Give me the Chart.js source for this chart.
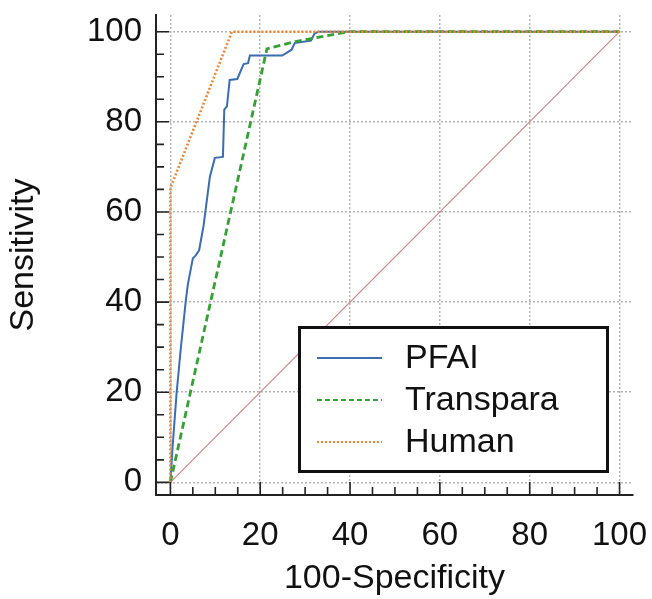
<!DOCTYPE html>
<html lang="en">
<head>
    <meta charset="UTF-8">
    <title>ROC curves</title>
    <script src="https://cdn.jsdelivr.net/npm/chart.js@4.4.0/dist/chart.umd.min.js"></script>
    <style>
        body { margin: 0; background: #fff; }
        canvas { display: block; }
    </style>
</head>
<body>
    <canvas id="rocChart" width="652" height="599"></canvas>
    <script>
    // data (100-Specificity vs Sensitivity)
    var pfaiX = [0, 0.5, 1.4, 2.3, 3.4, 3.9, 5.0, 5.6, 6.4, 7.4, 8.3, 8.8, 9.9, 11.7, 12.0, 12.6, 13.2, 14.9, 16.3, 17.3, 17.7, 24.9, 27.0, 27.7, 31.3, 32.1, 33.0, 100];
    var pfaiY = [0, 8, 20, 29.5, 40, 44, 49.7, 50.3, 51.5, 57, 64, 67.8, 72, 72.2, 82.7, 83.5, 89.3, 89.5, 92.8, 93, 94.7, 94.7, 96, 97.5, 98, 99.6, 100, 100];
    var transparaX = [0, 21.5, 27.8, 39.6, 100];
    var transparaY = [0, 96.2, 97.8, 100, 100];
    var humanX = [0, 0, 13.7, 100];
    var humanY = [0, 65.3, 100, 100];
    var chanceX = [0, 100];
    var chanceY = [0, 100];
    var tickValues = [0, 5, 10, 15, 20, 25, 30, 35, 40, 45, 50, 55, 60, 65, 70, 75, 80, 85, 90, 95, 100];

    function points(xs, ys) {
        return xs.map(function(x, i) { return { x: x, y: ys[i] }; });
    }

    var FONT = '"Liberation Sans", Arial, sans-serif';

    function gridColor(ctx) {
        return ctx.tick && ctx.tick.value % 20 === 0 ? '#b4b4b4' : 'rgba(0,0,0,0)';
    }
    function tickLabel(v) {
        return v % 20 === 0 ? v : '';
    }
    function buildTicks(scale) {
        scale.ticks = tickValues.map(function(v) { return { value: v }; });
    }

    // tick marks pointing into the plot
    var innerTicks = {
        id: 'innerTicks',
        afterDraw: function(chart) {
            var c = chart.ctx, area = chart.chartArea;
            var xs = chart.scales.x, ys = chart.scales.y;
            c.save();
            c.strokeStyle = '#222';
            c.lineWidth = 1.6;
            c.beginPath();
            tickValues.forEach(function(v) {
                var len = v % 20 === 0 ? 13 : 8;
                var px = xs.getPixelForValue(v);
                c.moveTo(px, area.bottom);
                c.lineTo(px, area.bottom - len);
                var py = ys.getPixelForValue(v);
                c.moveTo(area.left, py);
                c.lineTo(area.left + len, py);
            });
            c.stroke();
            c.restore();
        }
    };

    // boxed legend inside the plot
    var boxLegend = {
        id: 'boxLegend',
        afterDatasetsDraw: function(chart) {
            var c = chart.ctx;
            c.save();
            c.fillStyle = '#fff';
            c.fillRect(299, 327, 308, 144);
            c.strokeStyle = '#111';
            c.lineWidth = 3;
            c.strokeRect(299.5, 327.5, 308, 144);
            var rowY = [358, 400, 442];
            var shown = chart.data.datasets.filter(function(d) { return d.label; });
            shown.forEach(function(d, i) {
                c.beginPath();
                c.strokeStyle = d.borderColor;
                c.lineWidth = d.legendWidth;
                c.setLineDash(d.legendDash);
                c.moveTo(317, rowY[i]);
                c.lineTo(382, rowY[i]);
                c.stroke();
                c.setLineDash([]);
                c.fillStyle = '#111';
                c.font = '34px ' + FONT;
                c.textBaseline = 'middle';
                c.fillText(d.label, 405, rowY[i] + 1);
            });
            c.restore();
        }
    };

    var chart = new Chart(document.getElementById('rocChart'), {
        type: 'scatter',
        data: {
            datasets: [{
                label: 'PFAI',
                data: points(pfaiX, pfaiY),
                borderColor: '#3b6db3',
                borderWidth: 2,
                legendWidth: 2,
                legendDash: [],
                order: 3
            }, {
                label: 'Transpara',
                data: points(transparaX, transparaY),
                borderColor: '#35a135',
                borderWidth: 2.8,
                borderDash: [7, 4],
                legendWidth: 2,
                legendDash: [5, 3],
                order: 2
            }, {
                label: 'Human',
                data: points(humanX, humanY),
                borderColor: '#ef8636',
                borderWidth: 2.6,
                borderDash: [2, 2],
                legendWidth: 2,
                legendDash: [2, 2],
                order: 1
            }, {
                label: '',
                data: points(chanceX, chanceY),
                borderColor: '#d08585',
                borderWidth: 1.2,
                order: 4
            }]
        },
        options: {
            responsive: false,
            animation: false,
            showLine: true,
            elements: {
                point: { radius: 0, hoverRadius: 0 },
                line: { tension: 0, fill: false }
            },
            layout: { padding: { top: 15, right: 19, left: 0, bottom: 0 } },
            plugins: {
                legend: { display: false },
                tooltip: { enabled: false }
            },
            scales: {
                x: {
                    type: 'linear',
                    min: -3.2,
                    max: 103,
                    afterBuildTicks: buildTicks,
                    afterFit: function(scale) {
                        scale.height = 104;
                        scale.paddingLeft = 0;
                        scale.paddingRight = 0;
                    },
                    ticks: {
                        autoSkip: false,
                        maxRotation: 0,
                        padding: 21,
                        color: '#111',
                        font: { size: 33, family: FONT },
                        callback: tickLabel
                    },
                    grid: { color: gridColor, lineWidth: 1.5, drawTicks: false },
                    border: { display: true, color: '#222', width: 2, dash: [2, 2] },
                    title: {
                        display: true,
                        text: '100-Specificity',
                        color: '#111',
                        font: { size: 34, family: FONT },
                        padding: { top: 0, bottom: 0 }
                    }
                },
                y: {
                    type: 'linear',
                    min: -2.8,
                    max: 103.7,
                    afterBuildTicks: buildTicks,
                    afterFit: function(scale) {
                        scale.width = 156;
                        scale.paddingTop = 0;
                        scale.paddingBottom = 0;
                    },
                    ticks: {
                        autoSkip: false,
                        padding: 14,
                        color: '#111',
                        font: { size: 33, family: FONT },
                        callback: tickLabel
                    },
                    grid: { color: gridColor, lineWidth: 1.5, drawTicks: false },
                    border: { display: true, color: '#222', width: 2, dash: [2, 2] },
                    title: {
                        display: true,
                        text: 'Sensitivity',
                        color: '#111',
                        font: { size: 34, family: FONT },
                        padding: { top: 3, bottom: 0 }
                    }
                }
            }
        },
        plugins: [innerTicks, boxLegend]
    });
    </script>
</body>
</html>
